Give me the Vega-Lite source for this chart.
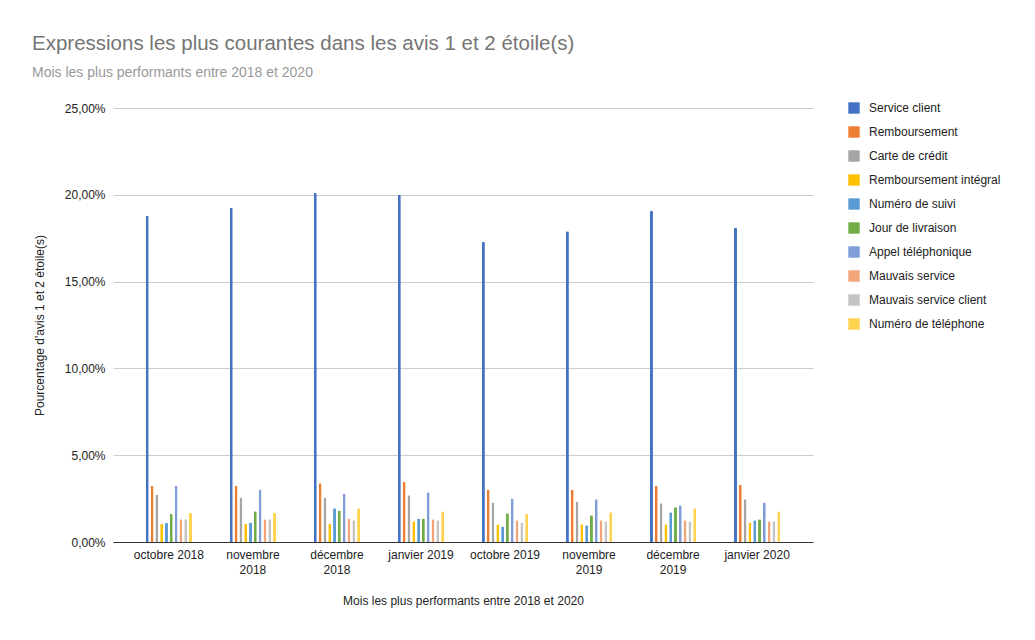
{
  "$schema": "https://vega.github.io/schema/vega-lite/v6.json",
  "width": 700,
  "height": 434,
  "autosize": "none",
  "padding": {"left": 113, "top": 108, "right": 222, "bottom": 98},
  "background": "white",
  "title": {
    "text": "Expressions les plus courantes dans les avis 1 et 2 étoile(s)",
    "subtitle": "Mois les plus performants entre 2018 et 2020",
    "anchor": "start",
    "frame": "group",
    "dx": -81,
    "offset": 22,
    "font": "Liberation Sans",
    "fontSize": 20.5,
    "fontWeight": "normal",
    "color": "#757575",
    "subtitleFont": "Liberation Sans",
    "subtitleFontSize": 14,
    "subtitleColor": "#999999",
    "subtitlePadding": 12
  },
  "datasets": {
    "d": [
      {"mois": "octobre 2018", "expr": "Service client", "v": 0.1878},
      {"mois": "octobre 2018", "expr": "Remboursement", "v": 0.0323},
      {"mois": "octobre 2018", "expr": "Carte de crédit", "v": 0.0271},
      {"mois": "octobre 2018", "expr": "Remboursement intégral", "v": 0.0104},
      {"mois": "octobre 2018", "expr": "Numéro de suivi", "v": 0.0109},
      {"mois": "octobre 2018", "expr": "Jour de livraison", "v": 0.0161},
      {"mois": "octobre 2018", "expr": "Appel téléphonique", "v": 0.0323},
      {"mois": "octobre 2018", "expr": "Mauvais service", "v": 0.0131},
      {"mois": "octobre 2018", "expr": "Mauvais service client", "v": 0.0131},
      {"mois": "octobre 2018", "expr": "Numéro de téléphone", "v": 0.0167},

      {"mois": "novembre 2018", "expr": "Service client", "v": 0.1924},
      {"mois": "novembre 2018", "expr": "Remboursement", "v": 0.0323},
      {"mois": "novembre 2018", "expr": "Carte de crédit", "v": 0.0257},
      {"mois": "novembre 2018", "expr": "Remboursement intégral", "v": 0.0107},
      {"mois": "novembre 2018", "expr": "Numéro de suivi", "v": 0.0113},
      {"mois": "novembre 2018", "expr": "Jour de livraison", "v": 0.0177},
      {"mois": "novembre 2018", "expr": "Appel téléphonique", "v": 0.0303},
      {"mois": "novembre 2018", "expr": "Mauvais service", "v": 0.0131},
      {"mois": "novembre 2018", "expr": "Mauvais service client", "v": 0.0131},
      {"mois": "novembre 2018", "expr": "Numéro de téléphone", "v": 0.0167},

      {"mois": "décembre 2018", "expr": "Service client", "v": 0.2010},
      {"mois": "décembre 2018", "expr": "Remboursement", "v": 0.0338},
      {"mois": "décembre 2018", "expr": "Carte de crédit", "v": 0.0257},
      {"mois": "décembre 2018", "expr": "Remboursement intégral", "v": 0.0107},
      {"mois": "décembre 2018", "expr": "Numéro de suivi", "v": 0.0194},
      {"mois": "décembre 2018", "expr": "Jour de livraison", "v": 0.0182},
      {"mois": "décembre 2018", "expr": "Appel téléphonique", "v": 0.0280},
      {"mois": "décembre 2018", "expr": "Mauvais service", "v": 0.0136},
      {"mois": "décembre 2018", "expr": "Mauvais service client", "v": 0.0125},
      {"mois": "décembre 2018", "expr": "Numéro de téléphone", "v": 0.0194},

      {"mois": "janvier 2019", "expr": "Service client", "v": 0.1999},
      {"mois": "janvier 2019", "expr": "Remboursement", "v": 0.0349},
      {"mois": "janvier 2019", "expr": "Carte de crédit", "v": 0.0269},
      {"mois": "janvier 2019", "expr": "Remboursement intégral", "v": 0.0119},
      {"mois": "janvier 2019", "expr": "Numéro de suivi", "v": 0.0136},
      {"mois": "janvier 2019", "expr": "Jour de livraison", "v": 0.0136},
      {"mois": "janvier 2019", "expr": "Appel téléphonique", "v": 0.0286},
      {"mois": "janvier 2019", "expr": "Mauvais service", "v": 0.0131},
      {"mois": "janvier 2019", "expr": "Mauvais service client", "v": 0.0125},
      {"mois": "janvier 2019", "expr": "Numéro de téléphone", "v": 0.0177},

      {"mois": "octobre 2019", "expr": "Service client", "v": 0.1728},
      {"mois": "octobre 2019", "expr": "Remboursement", "v": 0.0303},
      {"mois": "octobre 2019", "expr": "Carte de crédit", "v": 0.0228},
      {"mois": "octobre 2019", "expr": "Remboursement intégral", "v": 0.0102},
      {"mois": "octobre 2019", "expr": "Numéro de suivi", "v": 0.0090},
      {"mois": "octobre 2019", "expr": "Jour de livraison", "v": 0.0165},
      {"mois": "octobre 2019", "expr": "Appel téléphonique", "v": 0.0250},
      {"mois": "octobre 2019", "expr": "Mauvais service", "v": 0.0125},
      {"mois": "octobre 2019", "expr": "Mauvais service client", "v": 0.0113},
      {"mois": "octobre 2019", "expr": "Numéro de téléphone", "v": 0.0161},

      {"mois": "novembre 2019", "expr": "Service client", "v": 0.1790},
      {"mois": "novembre 2019", "expr": "Remboursement", "v": 0.0303},
      {"mois": "novembre 2019", "expr": "Carte de crédit", "v": 0.0234},
      {"mois": "novembre 2019", "expr": "Remboursement intégral", "v": 0.0102},
      {"mois": "novembre 2019", "expr": "Numéro de suivi", "v": 0.0096},
      {"mois": "novembre 2019", "expr": "Jour de livraison", "v": 0.0154},
      {"mois": "novembre 2019", "expr": "Appel téléphonique", "v": 0.0246},
      {"mois": "novembre 2019", "expr": "Mauvais service", "v": 0.0125},
      {"mois": "novembre 2019", "expr": "Mauvais service client", "v": 0.0119},
      {"mois": "novembre 2019", "expr": "Numéro de téléphone", "v": 0.0171},

      {"mois": "décembre 2019", "expr": "Service client", "v": 0.1907},
      {"mois": "décembre 2019", "expr": "Remboursement", "v": 0.0323},
      {"mois": "décembre 2019", "expr": "Carte de crédit", "v": 0.0223},
      {"mois": "décembre 2019", "expr": "Remboursement intégral", "v": 0.0102},
      {"mois": "décembre 2019", "expr": "Numéro de suivi", "v": 0.0171},
      {"mois": "décembre 2019", "expr": "Jour de livraison", "v": 0.0200},
      {"mois": "décembre 2019", "expr": "Appel téléphonique", "v": 0.0211},
      {"mois": "décembre 2019", "expr": "Mauvais service", "v": 0.0125},
      {"mois": "décembre 2019", "expr": "Mauvais service client", "v": 0.0119},
      {"mois": "décembre 2019", "expr": "Numéro de téléphone", "v": 0.0194},

      {"mois": "janvier 2020", "expr": "Service client", "v": 0.1809},
      {"mois": "janvier 2020", "expr": "Remboursement", "v": 0.0328},
      {"mois": "janvier 2020", "expr": "Carte de crédit", "v": 0.0246},
      {"mois": "janvier 2020", "expr": "Remboursement intégral", "v": 0.0113},
      {"mois": "janvier 2020", "expr": "Numéro de suivi", "v": 0.0125},
      {"mois": "janvier 2020", "expr": "Jour de livraison", "v": 0.0131},
      {"mois": "janvier 2020", "expr": "Appel téléphonique", "v": 0.0228},
      {"mois": "janvier 2020", "expr": "Mauvais service", "v": 0.0119},
      {"mois": "janvier 2020", "expr": "Mauvais service client", "v": 0.0119},
      {"mois": "janvier 2020", "expr": "Numéro de téléphone", "v": 0.0177}
    ]
  },
  "data": {"name": "d"},
  "mark": {"type": "bar", "cornerRadiusTopLeft": 1, "cornerRadiusTopRight": 1},
  "encoding": {
    "x": {
      "field": "mois",
      "type": "nominal",
      "sort": null,
      "scale": {"paddingInner": 0.45, "paddingOuter": 0.39},
      "axis": {
        "title": "Mois les plus performants entre 2018 et 2020",
        "titleFont": "Liberation Sans",
        "titleFontSize": 12,
        "titleFontWeight": "normal",
        "titleColor": "#222222",
        "titlePadding": 20,
        "labelAngle": 0,
        "labelFont": "Liberation Sans",
        "labelFontSize": 12,
        "labelColor": "#222222",
        "labelPadding": 7,
        "labelLineHeight": 15,
        "labelExpr": "datum.value == 'novembre 2018' ? ['novembre', '2018'] : datum.value == 'décembre 2018' ? ['décembre', '2018'] : datum.value == 'novembre 2019' ? ['novembre', '2019'] : datum.value == 'décembre 2019' ? ['décembre', '2019'] : datum.value",
        "ticks": false,
        "domainColor": "#333333",
        "domainWidth": 1
      }
    },
    "xOffset": {
      "field": "expr",
      "type": "nominal",
      "sort": null,
      "scale": {"paddingInner": 0.38, "paddingOuter": 0}
    },
    "y": {
      "field": "v",
      "type": "quantitative",
      "scale": {"domain": [0, 0.25]},
      "axis": {
        "title": "Pourcentage d'avis 1 et 2 étoile(s)",
        "titleFont": "Liberation Sans",
        "titleFontSize": 12,
        "titleFontWeight": "normal",
        "titleColor": "#222222",
        "titlePadding": 18,
        "values": [0, 0.05, 0.1, 0.15, 0.2, 0.25],
        "labelExpr": "replace(format(datum.value, '.2%'), '.', ',')",
        "labelFont": "Liberation Sans",
        "labelFontSize": 12,
        "labelColor": "#222222",
        "labelPadding": 8,
        "ticks": false,
        "domain": false,
        "gridColor": "#cccccc"
      }
    },
    "color": {
      "field": "expr",
      "type": "nominal",
      "sort": null,
      "scale": {
        "domain": ["Service client", "Remboursement", "Carte de crédit", "Remboursement intégral", "Numéro de suivi", "Jour de livraison", "Appel téléphonique", "Mauvais service", "Mauvais service client", "Numéro de téléphone"],
        "range": ["#4472c4", "#ed7d31", "#a5a5a5", "#ffc000", "#5b9bd5", "#70ad47", "#7f9dd6", "#f1a579", "#c4c4c4", "#ffd24f"]
      },
      "legend": {
        "title": null,
        "orient": "none",
        "legendX": 735,
        "legendY": -6,
        "symbolType": "square",
        "symbolSize": 130,
        "symbolStrokeWidth": 0,
        "labelFont": "Liberation Sans",
        "labelFontSize": 12,
        "labelColor": "#222222",
        "labelOffset": 9,
        "rowPadding": 12,
        "labelLimit": 200
      }
    }
  },
  "config": {
    "view": {"stroke": null}
  }
}
